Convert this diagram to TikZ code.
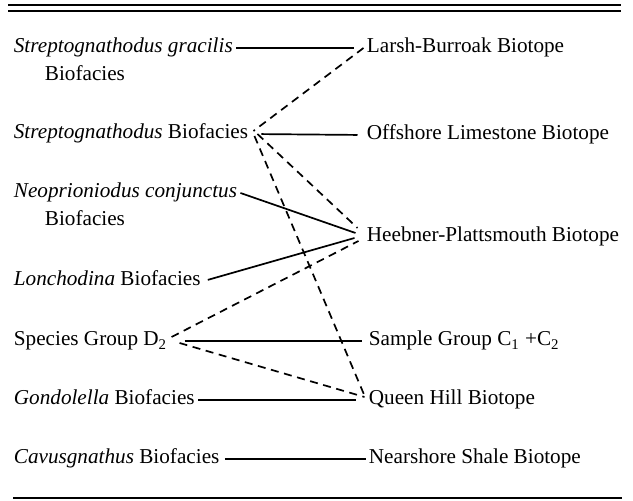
\documentclass[tikz,border=0pt]{standalone}
\usepackage{fontspec}
\setmainfont{Liberation Serif}

\begin{document}
\begin{tikzpicture}[x=0.5pt, y=-0.5pt,
    txt/.style={anchor=base west, inner xsep=1.5pt, inner ysep=0pt,
      text height=7pt, text depth=2pt, font=\fontsize{10.6}{12}\selectfont},
    link/.style={line width=0.85pt},
    maybe/.style={line width=0.85pt, dash pattern=on 4pt off 2.8pt}]
    \useasboundingbox (0,0) rectangle (633,501);

    % Linien oben und unten
    \draw[line width=0.8pt] (8,5) -- (621,5);
    \draw[line width=0.8pt] (8,11) -- (621,11);
    \draw[line width=0.8pt] (13,498) -- (622,498);

    % Biofazies (links)
    \node[txt] (gracilis) at (10.5,53) {\textit{Streptognathodus gracilis}};
    \node[txt] (gracilisB) at (41.5,81) {Biofacies};
    \node[txt] (strepto) at (10.5,139) {\textit{Streptognathodus} Biofacies};
    \node[txt] (neoprio) at (10.5,198) {\textit{Neoprioniodus conjunctus}};
    \node[txt] (neoprioB) at (41.5,226) {Biofacies};
    \node[txt] (lonch) at (10.5,286) {\textit{Lonchodina} Biofacies};
    \node[txt] (groupD) at (10.5,346) {Species Group D\textsubscript{2}};
    \node[txt] (gondo) at (10.5,405) {\textit{Gondolella} Biofacies};
    \node[txt] (cavus) at (10.5,464) {\textit{Cavusgnathus} Biofacies};

    % Biotope (rechts)
    \node[txt] (larsh) at (363.5,53) {Larsh-Burroak Biotope};
    \node[txt] (offshore) at (363.5,140) {Offshore Limestone Biotope};
    \node[txt] (heebner) at (363.5,242) {Heebner-Plattsmouth Biotope};
    \node[txt] (sampleC) at (365.5,346) {Sample Group C\textsubscript{1} +C\textsubscript{2}};
    \node[txt] (queen) at (365.5,405) {Queen Hill Biotope};
    \node[txt] (nearshore) at (365.5,464) {Nearshore Shale Biotope};

    % sichere Zuordnungen
    \draw[link, shorten >=5pt] (gracilis.east) -- (larsh.west);
    \draw[link, shorten <=5pt, shorten >=3pt] (strepto.east) -- (offshore.west);
    \draw[link] (neoprio.east) -- ([shift={(-8,-4)}]heebner.west);
    \draw[link, shorten <=2pt] (lonch.east) -- ([shift={(-9,1)}]heebner.west);
    \draw[link, shorten <=7pt] (groupD.east) -- ([xshift=-2pt]sampleC.west);
    \draw[link] (gondo.east) -- ([xshift=-5pt]queen.west);
    \draw[link, shorten <=1pt] (cavus.east) -- (nearshore.west);

    % unsichere Zuordnungen
    \draw[maybe] (larsh.west) -- ([shift={(2,-3)}]strepto.east);
    \draw[maybe] ([shift={(6,0)}]strepto.east) -- ([shift={(-6,-9)}]heebner.west);
    \draw[maybe] ([shift={(3,2)}]strepto.east) -- ([shift={(0,-2)}]queen.west);
    \draw[maybe] ([shift={(1,-4)}]groupD.east) -- ([shift={(-5,4)}]heebner.west);
    \draw[maybe] ([shift={(9,2)}]groupD.east) -- ([shift={(-1,-3)}]queen.west);
\end{tikzpicture}
\end{document}
